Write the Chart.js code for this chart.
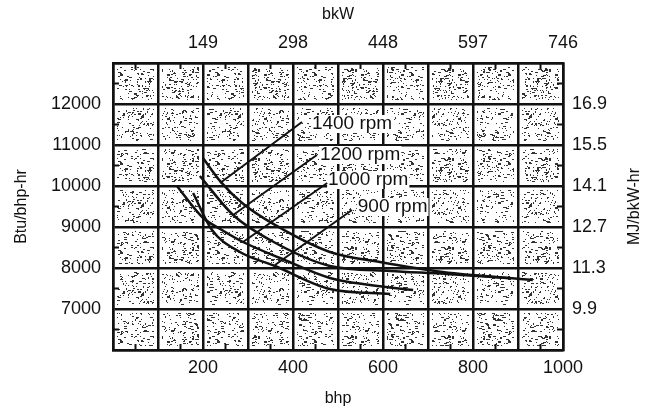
<!DOCTYPE html>
<html lang="en">
<head>
    <meta charset="UTF-8">
    <title>Fuel consumption vs bhp</title>
    <script src="https://cdn.jsdelivr.net/npm/chart.js"></script>
    <style>
        html, body { margin: 0; padding: 0; background: #fff; }
        .wrap { width: 654px; height: 414px; }
    </style>
</head>
<body>
    <div class="wrap"><canvas id="bsfc" width="654" height="414"></canvas></div>
    <script>
        // axis labels
        const bhpTicks = [200, 400, 600, 800, 1000];
        const bkwLabels = ['149', '298', '448', '597', '746'];
        const btuTicks = [7000, 8000, 9000, 10000, 11000, 12000];
        const mjLabels = ['9.9', '11.3', '12.7', '14.1', '15.5', '16.9'];

        // curves (bhp, Btu/bhp-hr)
        const rpm1400Bhp = [200, 238, 287, 360, 482, 593, 733, 933];
        const rpm1400Btu = [10680, 10120, 9585, 9050, 8390, 8146, 7902, 7707];
        const rpm1200Bhp = [193, 267, 349, 482, 616, 742, 882];
        const rpm1200Btu = [10244, 9293, 8683, 8049, 7927, 7854, 7750];
        const rpm1000Bhp = [142, 198, 242, 289, 371, 482, 571, 667];
        const rpm1000Btu = [10000, 9244, 8927, 8634, 8244, 7756, 7585, 7463];
        const rpm900Bhp = [178, 220, 282, 360, 482, 616];
        const rpm900Btu = [9829, 8927, 8390, 8049, 7488, 7366];

        // rpm labels and their leader lines
        const rpmLabels = ['1400 rpm', '1200 rpm', '1000 rpm', '900 rpm'];
        const labelBhp = [442, 460, 478, 544];
        const labelBtu = [11512, 10756, 10146, 9488];
        const leaderFromBhp = [238, 267, 289, 360];
        const leaderFromBtu = [10073, 9293, 8634, 8073];
        const leaderToBhp = [420, 453, 476, 531];
        const leaderToBtu = [11561, 10756, 10073, 9415];

        const ink = '#111';
        const tickFont = { family: 'Liberation Sans, Arial, sans-serif', size: 18 };
        const titleFont = { family: 'Liberation Sans, Arial, sans-serif', size: 16 };

        function pts(xs, ys) {
            return xs.map((x, i) => ({ x: x, y: ys[i] }));
        }

        function curve(xs, ys) {
            return {
                data: pts(xs, ys),
                showLine: true,
                borderColor: ink,
                borderWidth: 2.5,
                pointRadius: 0,
                cubicInterpolationMode: 'monotone',
                fill: false
            };
        }

        const datasets = [
            curve(rpm1400Bhp, rpm1400Btu),
            curve(rpm1200Bhp, rpm1200Btu),
            curve(rpm1000Bhp, rpm1000Btu),
            curve(rpm900Bhp, rpm900Btu)
        ];
        rpmLabels.forEach((_, i) => {
            datasets.push({
                data: [{ x: leaderFromBhp[i], y: leaderFromBtu[i] }, { x: leaderToBhp[i], y: leaderToBtu[i] }],
                showLine: true,
                borderColor: ink,
                borderWidth: 2,
                pointRadius: 0,
                tension: 0
            });
        });

        // stippled "scan" texture for the cells
        function makeStipple() {
            const c = document.createElement('canvas');
            c.width = 97; c.height = 89;
            const g = c.getContext('2d');
            g.fillStyle = '#fff';
            g.fillRect(0, 0, c.width, c.height);
            g.fillStyle = '#333';
            let s = 12345;
            const next = () => { s = (s * 1103515245 + 12345) % 2147483648; return s / 2147483648; };
            for (let k = 0; k < 780; k++) {
                const w = next() < 0.35 ? (next() < 0.4 ? 3 : 2) : 1;
                const h = next() < 0.15 ? 2 : 1;
                g.fillRect(Math.floor(next() * c.width), Math.floor(next() * c.height), w, h);
            }
            return c;
        }

        const gridDecor = {
            id: 'gridDecor',
            beforeDraw(chart) {
                const { ctx, scales } = chart;
                const pattern = ctx.createPattern(makeStipple(), 'repeat');
                ctx.save();
                ctx.fillStyle = pattern;
                for (let i = 0; i < 10; i++) {
                    for (let j = 0; j < 7; j++) {
                        const x0 = scales.x.getPixelForValue(i * 100);
                        const x1 = scales.x.getPixelForValue((i + 1) * 100);
                        const y0 = scales.y.getPixelForValue(6000 + (j + 1) * 1000);
                        const y1 = scales.y.getPixelForValue(6000 + j * 1000);
                        ctx.fillRect(x0 + 4, y0 + 4, x1 - x0 - 8, y1 - y0 - 8);
                    }
                }
                ctx.restore();
            },
            beforeDatasetsDraw(chart) {
                // clear patches behind the rpm labels
                const { ctx, scales } = chart;
                ctx.save();
                ctx.font = '19px Liberation Sans, Arial, sans-serif';
                ctx.fillStyle = '#fff';
                rpmLabels.forEach((t, i) => {
                    const x = scales.x.getPixelForValue(labelBhp[i]);
                    const y = scales.y.getPixelForValue(labelBtu[i]);
                    ctx.fillRect(x - 1, y - 9, ctx.measureText(t).width + 2, 18);
                });
                ctx.restore();
            },
            afterDatasetsDraw(chart) {
                const { ctx, chartArea: a, scales } = chart;
                ctx.save();
                ctx.strokeStyle = ink;
                ctx.lineWidth = 2;
                ctx.beginPath();
                for (let v = 50; v < 1000; v += 100) {
                    const x = scales.x.getPixelForValue(v);
                    ctx.moveTo(x, a.bottom); ctx.lineTo(x, a.bottom - 6);
                    ctx.moveTo(x, a.top); ctx.lineTo(x, a.top + 6);
                }
                for (let v = 6500; v < 13000; v += 1000) {
                    const y = scales.y.getPixelForValue(v);
                    ctx.moveTo(a.left, y); ctx.lineTo(a.left + 6, y);
                    ctx.moveTo(a.right, y); ctx.lineTo(a.right - 6, y);
                }
                ctx.stroke();

                // rpm labels
                ctx.fillStyle = ink;
                ctx.font = '19px Liberation Sans, Arial, sans-serif';
                ctx.textBaseline = 'middle';
                ctx.textAlign = 'left';
                rpmLabels.forEach((t, i) => {
                    ctx.fillText(t, scales.x.getPixelForValue(labelBhp[i]), scales.y.getPixelForValue(labelBtu[i]));
                });

                // right axis title, reading bottom to top
                ctx.font = '16px Liberation Sans, Arial, sans-serif';
                ctx.textAlign = 'center';
                ctx.translate(635, (a.top + a.bottom) / 2);
                ctx.rotate(-Math.PI / 2);
                ctx.fillText('MJ/bkW-hr', 0, 0);
                ctx.restore();
            }
        };

        const ctx = document.getElementById('bsfc').getContext('2d');
        new Chart(ctx, {
            type: 'scatter',
            data: { datasets: datasets },
            options: {
                responsive: false,
                animation: false,
                events: [],
                layout: { padding: 0 },
                plugins: { legend: { display: false }, tooltip: { enabled: false } },
                scales: {
                    x: {
                        type: 'linear', position: 'bottom', min: 0, max: 1000,
                        afterFit: s => { s.height = 64; },
                        ticks: {
                            stepSize: 100, autoSkip: false, maxRotation: 0, padding: 7,
                            color: ink, font: tickFont,
                            callback: v => bhpTicks.includes(v) ? String(v) : ''
                        },
                        grid: { color: ink, lineWidth: 2.5, drawTicks: false },
                        border: { color: ink, width: 2.5 },
                        title: { display: true, text: 'bhp', color: ink, font: titleFont, padding: { top: 0, bottom: 6 } }
                    },
                    x2: {
                        type: 'linear', position: 'top', min: 0, max: 1000,
                        afterFit: s => { s.height = 63; },
                        ticks: {
                            stepSize: 100, autoSkip: false, maxRotation: 0, padding: 9,
                            color: ink, font: tickFont,
                            callback: v => bhpTicks.includes(v) ? bkwLabels[bhpTicks.indexOf(v)] : ''
                        },
                        grid: { display: false, drawTicks: false },
                        border: { color: ink, width: 2.5 },
                        title: { display: true, text: 'bkW', color: ink, font: titleFont, padding: { top: 5, bottom: 0 } }
                    },
                    y: {
                        type: 'linear', position: 'left', min: 6000, max: 13000,
                        afterFit: s => { s.width = 113; },
                        ticks: {
                            stepSize: 1000, autoSkip: false, padding: 12,
                            color: ink, font: tickFont,
                            callback: v => btuTicks.includes(v) ? String(v) : ''
                        },
                        grid: { color: ink, lineWidth: 2.5, drawTicks: false },
                        border: { color: ink, width: 2.5 },
                        title: { display: true, text: 'Btu/bhp-hr', color: ink, font: titleFont, padding: { top: 12, bottom: 0 } }
                    },
                    y2: {
                        type: 'linear', position: 'right', min: 6000, max: 13000,
                        afterFit: s => { s.width = 91; },
                        ticks: {
                            stepSize: 1000, autoSkip: false, padding: 9,
                            color: ink, font: tickFont,
                            callback: v => btuTicks.includes(v) ? mjLabels[btuTicks.indexOf(v)] : ''
                        },
                        grid: { display: false, drawTicks: false },
                        border: { color: ink, width: 2.5 }
                    }
                }
            },
            plugins: [gridDecor]
        });
    </script>
</body>
</html>
